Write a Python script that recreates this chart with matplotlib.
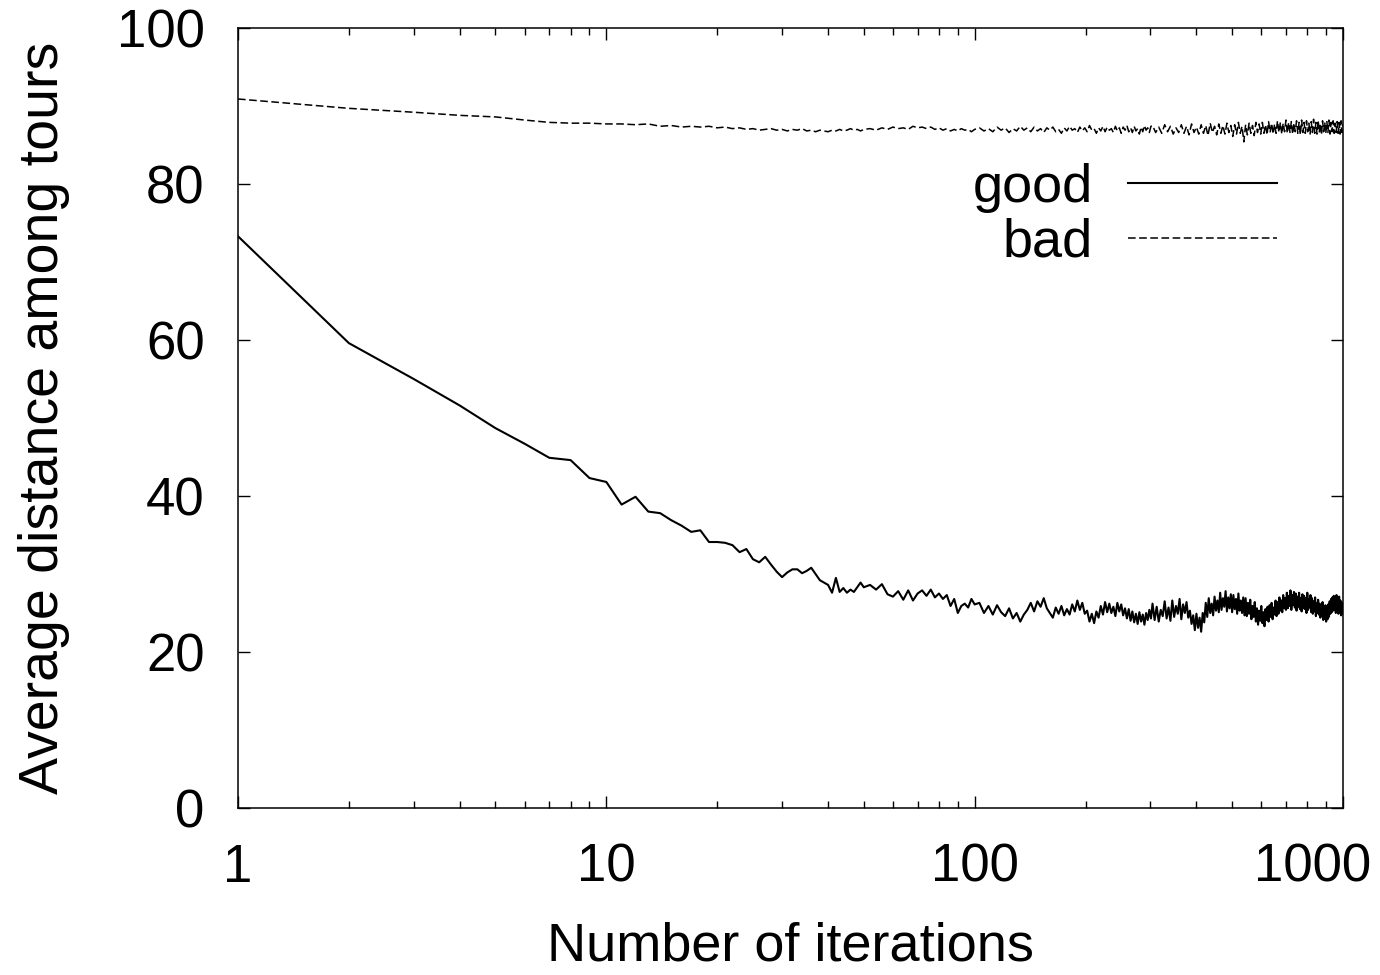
import numpy as np
import matplotlib
matplotlib.use("Agg")
import matplotlib.pyplot as plt
import matplotlib.transforms as mtransforms
from matplotlib.ticker import FixedLocator, NullFormatter, LogLocator

plt.rcParams['font.family'] = ['Liberation Sans', 'DejaVu Sans']

# iteration numbers the values were read at
good_iters = np.concatenate([np.arange(1, 51), np.arange(52, 101, 2),
                             np.arange(103, 302, 3), np.arange(304, 1001, 4)])
bad_iters = np.concatenate([np.arange(1, 51), np.arange(52, 101, 2),
                            np.arange(103, 302, 3), np.arange(304, 1001, 6)])

# average distance, "good" run
good = [
    73.3, 59.6, 55.0, 51.6, 48.7, 46.7, 44.9, 44.6, 42.3, 41.8,
    38.9, 39.9, 38.0, 37.8, 36.9, 36.2, 35.4, 35.6, 34.1, 34.1,
    34.0, 33.7, 32.8, 33.2, 31.9, 31.5, 32.2, 31.2, 30.3, 29.6,
    30.2, 30.6, 30.6, 30.1, 30.4, 30.8, 30.0, 29.2, 28.9, 28.6,
    27.6, 29.5, 27.7, 28.2, 27.6, 28.0, 27.7, 28.3, 28.9, 28.3,
    # 52..100 step 2
    28.6, 28.0, 28.7, 27.4, 27.1, 27.8, 26.7, 27.9, 26.6, 27.5,
    27.9, 27.2, 28.0, 27.0, 27.5, 26.8, 27.3, 25.9, 26.8, 25.0,
    25.9, 26.2, 25.7, 26.8, 26.1,
    # 103..301 step 3
    26.3, 25.0, 25.9, 24.8, 26.0, 25.1, 24.6, 25.6, 24.3, 25.0,
    23.9, 24.8, 25.4, 26.3, 25.2, 26.5, 25.8, 26.9, 25.6, 25.0,
    24.4, 25.7, 24.9, 25.9, 24.7, 25.5, 24.8, 26.1, 25.2, 26.6,
    25.4, 26.3, 24.9, 25.3, 23.9, 24.9, 23.7, 25.2, 24.4, 25.9,
    24.8, 26.4, 25.1, 26.2, 25.0, 25.8, 24.6, 26.3, 25.2, 26.1,
    24.7, 25.6, 24.3, 25.5, 24.0, 25.2, 23.8, 24.9, 23.6, 25.1,
    23.9, 24.8, 23.5, 25.0, 24.1, 25.4, 24.3,
    # 304..1000 step 4
    26.2, 24.1, 25.8, 23.9, 25.4, 24.6, 26.5, 24.3, 25.7, 24.0,
    26.6, 24.5, 25.9, 24.9, 26.8, 24.2, 26.1, 25.0, 26.4, 24.4,
    25.3, 23.6, 24.7, 22.8, 24.9, 23.1, 24.4, 22.6, 25.0, 23.8,
    26.3, 24.5, 26.9, 25.0, 26.2, 24.7, 27.1, 25.3, 26.6, 25.1,
    27.6, 25.4, 26.9, 25.8, 27.8, 25.2, 27.0, 25.6, 27.4, 25.1,
    27.3, 25.5, 26.8, 24.9, 27.5, 25.3, 26.6, 25.0, 27.0, 24.7,
    26.9, 24.6, 26.3, 24.9, 26.7, 24.2, 25.9, 24.5, 26.4, 23.9,
    25.6, 23.5, 25.3, 24.0, 25.9, 23.7, 25.1, 23.3, 25.5, 24.1,
    25.8, 23.9, 26.0, 24.5, 26.3, 24.2, 25.7, 24.8, 26.6, 24.6,
    26.4, 24.9, 27.0, 25.3, 26.6, 25.1, 27.3, 25.6, 26.9, 25.4,
    27.6, 25.6, 27.2, 25.9, 27.9, 25.4, 27.3, 26.0, 27.7, 25.7,
    27.5, 25.3, 27.1, 25.8, 27.6, 25.5, 26.9, 25.2, 27.4, 25.6,
    27.2, 25.5, 26.9, 25.0, 27.6, 25.4, 26.8, 25.7, 27.3, 25.1,
    26.9, 24.9, 26.5, 25.2, 27.0, 24.6, 26.3, 25.0, 26.7, 24.8,
    26.2, 24.4, 25.9, 24.7, 26.4, 24.1, 25.6, 24.3, 26.0, 23.9,
    25.8, 24.2, 26.1, 24.5, 26.5, 24.9, 26.8, 25.1, 27.0, 25.3,
    27.2, 25.4, 26.9, 25.0, 27.3, 25.5, 26.7, 24.9, 27.1, 25.2,
    26.6, 24.7, 26.3, 24.9, 26.2,
]

# average distance, "bad" run
bad = [
    90.9, 89.7, 89.2, 88.8, 88.6, 88.2, 87.9, 87.8, 87.8, 87.7,
    87.7, 87.6, 87.7, 87.4, 87.5, 87.3, 87.4, 87.3, 87.4, 87.2,
    87.3, 87.1, 87.2, 87.0, 87.1, 86.9, 87.0, 87.1, 86.9, 87.0,
    86.8, 87.0, 86.9, 87.1, 86.8, 86.9, 86.7, 86.9, 86.8, 86.7,
    86.9, 86.8, 87.0, 86.8, 86.9, 87.1, 86.9, 87.0, 86.8, 87.0,
    # 52..100 step 2
    87.1, 86.9, 87.2, 87.0, 87.3, 87.1, 87.2, 87.0, 87.4, 87.2,
    87.3, 87.1, 87.3, 87.0, 87.2, 86.9, 87.1, 86.8, 87.0, 86.8,
    87.1, 86.9, 87.0, 86.7, 87.0,
    # 103..301 step 3
    87.2, 86.8, 87.1, 86.7, 87.3, 86.9, 87.2, 86.6, 87.1, 86.8,
    87.4, 86.9, 87.2, 86.7, 87.3, 86.8, 87.1, 86.6, 87.2, 86.9,
    87.3, 86.7, 87.0, 86.5, 87.2, 86.8, 87.4, 86.9, 87.1, 86.6,
    87.3, 86.8, 87.2, 86.7, 87.5, 86.9, 87.1, 86.5, 87.2, 86.8,
    87.4, 86.7, 87.3, 86.9, 87.1, 86.6, 87.4, 86.8, 87.2, 86.5,
    87.3, 86.9, 87.5, 86.7, 87.2, 86.6, 87.4, 86.8, 87.1, 86.4,
    87.3, 86.7, 87.5, 86.9, 87.2, 86.6, 87.4,
    # 304..1000 step 6
    87.5, 86.6, 87.3, 86.5, 87.6, 86.7, 87.4, 86.4, 87.2, 86.6,
    87.6, 86.5, 87.4, 86.3, 87.7, 86.6, 87.3, 86.4, 87.6, 86.5,
    87.5, 86.2, 87.8, 86.6, 87.4, 86.3, 87.7, 86.5, 87.5, 86.4,
    87.8, 86.6, 87.5, 86.1, 87.6, 86.4, 87.9, 86.5, 87.4, 85.4,
    87.6, 86.3, 87.8, 86.5, 87.5, 86.2, 87.9, 86.6, 87.7, 86.4,
    87.9, 86.5, 87.6, 86.3, 88.0, 86.6, 87.8, 86.4, 87.7, 86.5,
    88.1, 86.6, 87.9, 86.4, 87.8, 86.7, 88.2, 86.5, 87.9, 86.6,
    88.0, 86.4, 87.8, 86.7, 88.1, 86.5, 87.9, 86.3, 88.2, 86.6,
    87.9, 86.5, 88.1, 86.7, 87.8, 86.4, 88.0, 86.6, 88.3, 86.5,
    87.9, 86.4, 88.2, 86.6, 87.8, 86.3, 88.1, 86.7, 87.9, 86.5,
    88.0, 86.6, 88.2, 86.4, 87.9, 86.7, 88.1, 86.5, 87.8, 86.6,
    88.0, 86.5, 87.9, 86.4, 88.1, 86.6, 87.7,
]

x_ticks = [1, 10, 100, 1000]
x_tick_labels = ['1', '10', '100', '1000']
y_ticks = [0, 20, 40, 60, 80, 100]

fig = plt.figure(figsize=(13.8, 9.75), dpi=100)
ax = fig.add_axes([238 / 1380, 167 / 975, 1105 / 1380, 780 / 975])

ax.plot(good_iters, good, color='black', lw=1.5, label='good')
ax.plot(bad_iters, bad, color='black', lw=1.1, linestyle=(0, (5, 2.3)), label='bad')

ax.set_xscale('log')
ax.set_xlim(1, 1000)
ax.set_ylim(0, 100)
ax.xaxis.set_major_locator(FixedLocator(x_ticks))
ax.set_xticklabels(x_tick_labels)
ax.xaxis.set_minor_locator(LogLocator(base=10, subs=np.arange(2, 10)))
ax.xaxis.set_minor_formatter(NullFormatter())
ax.set_yticks(y_ticks)

ax.tick_params(which='both', direction='in', top=True, right=True, width=1.0)
ax.tick_params(which='major', length=8.6, labelsize=38)
ax.tick_params(axis='x', which='major', pad=25)
ax.tick_params(axis='y', which='major', pad=24)
ax.tick_params(which='minor', length=5)
for s in ax.spines.values():
    s.set_linewidth(1.1)

# the "1000" label sits a bit left of its tick, as in the original
last = ax.xaxis.get_major_ticks()[-1].label1
last.set_transform(last.get_transform() +
                   mtransforms.ScaledTranslation(-0.30, 0, fig.dpi_scale_trans))

ax.set_xlabel('Number of iterations', fontsize=39)
ax.set_ylabel('Average distance among tours', fontsize=40)
ax.xaxis.set_label_coords(0.5, -0.146)
ax.yaxis.set_label_coords(-0.152, 0.5)

ax.legend(loc='upper right', bbox_to_anchor=(0.9403, 0.827), frameon=False,
          markerfirst=False, fontsize=39, handlelength=2.75, handletextpad=0.65,
          labelspacing=0.09, borderpad=0, borderaxespad=0)

fig.savefig('out.png', dpi=100)
